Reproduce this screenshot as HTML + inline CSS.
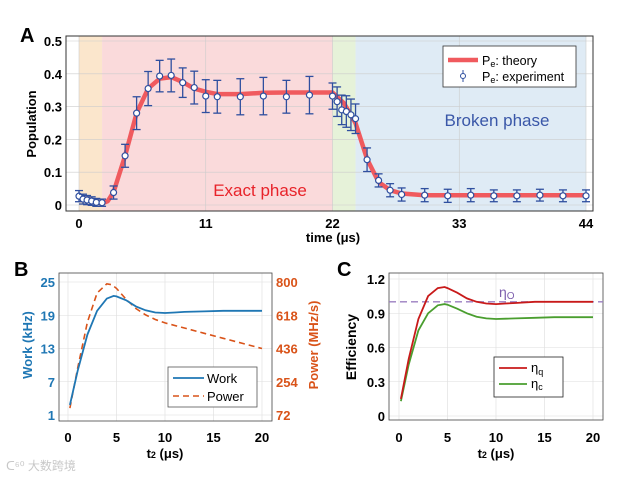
<!DOCTYPE html>
<html><head><meta charset="utf-8"><style>
html,body{margin:0;padding:0;background:#fff}
svg{display:block;font-family:"Liberation Sans","Noto Sans CJK SC",sans-serif}
</style></head><body>
<svg id="fig" width="631" height="479" viewBox="0 0 631 479" xmlns="http://www.w3.org/2000/svg"></svg>
<script>
// ---- Panel A data ----
const aExpT=[0,0.35,0.7,1.1,1.5,2.0,3,4,5,6,7,8,9,10,11,12,14,16,18,20,22,22.4,22.8,23.2,23.6,24,25,26,27,28,30,32,34,36,38,40,42,44];
const aExpV=[0.027,0.018,0.015,0.012,0.008,0.007,0.038,0.15,0.28,0.355,0.393,0.395,0.373,0.358,0.332,0.33,0.33,0.332,0.33,0.335,0.332,0.315,0.29,0.285,0.275,0.263,0.138,0.075,0.045,0.032,0.03,0.028,0.03,0.028,0.028,0.03,0.028,0.028];
const aExpE=[0.017,0.015,0.014,0.013,0.012,0.011,0.02,0.035,0.05,0.052,0.048,0.05,0.045,0.05,0.05,0.05,0.055,0.057,0.05,0.057,0.04,0.045,0.045,0.048,0.048,0.045,0.036,0.02,0.02,0.02,0.02,0.02,0.02,0.018,0.018,0.018,0.018,0.018];
const aThT=[0,1,2,2.5,3,4,5,6,7,8,9,10,11,12,14,16,18,20,22,23,24,25,26,27,28,30,44];
const aThV=[0.025,0.015,0.005,0.012,0.04,0.15,0.28,0.355,0.385,0.39,0.375,0.355,0.345,0.338,0.338,0.342,0.343,0.343,0.343,0.31,0.25,0.14,0.07,0.045,0.035,0.03,0.03];
const aXTicks=[0,11,22,33,44];
const aYTicks=[0,0.1,0.2,0.3,0.4,0.5];
// ---- Panel B data ----
const bT=[0.2,1,2,3,4,4.7,5,6,7,8,9,10,11,12,14,16,18,20];
const bWork=[2.8,9,15.5,19.8,22,22.5,22.4,21.7,20.6,19.9,19.5,19.4,19.5,19.6,19.7,19.8,19.8,19.8];
const bPowT=[0.2,1,2,3,4,4.5,5,6,7,8,9,10,12,14,16,18,20];
const bPow=[110,330,580,740,790,785,765,705,655,620,595,576,548,520,492,464,436];
const bXTicks=[0,5,10,15,20];
const bWorkTicks=[1,7,13,19,25];
const bPowTicks=[72,254,436,618,800];
// ---- Panel C data ----
const cT=[0.2,1,2,3,4,4.7,5,6,7,8,9,10,11,12,14,16,18,20];
const cEtaQ=[0.15,0.5,0.85,1.05,1.12,1.13,1.12,1.08,1.03,1.0,0.985,0.98,0.985,0.99,1.0,1.0,1.0,1.0];
const cEtaC=[0.13,0.45,0.75,0.9,0.97,0.98,0.975,0.94,0.9,0.87,0.855,0.85,0.852,0.855,0.86,0.865,0.865,0.865];
const cEtaO=1.0;
const cXTicks=[0,5,10,15,20];
const cYTicks=[0,0.3,0.6,0.9,1.2];

const S=document.getElementById('fig');
const NS='http://www.w3.org/2000/svg';
function el(tag,attrs,parent,text){const e=document.createElementNS(NS,tag);for(const k in attrs)e.setAttribute(k,attrs[k]);if(text!==undefined)e.textContent=text;(parent||S).appendChild(e);return e;}
function pts(xs,ys,fx,fy){return xs.map((x,i)=>fx(x).toFixed(1)+','+fy(ys[i]).toFixed(1)).join(' ');}

// ================= Panel A =================
const ax=v=>79+v*(507/44), ay=v=>205-v*328;
let g=el('g',{},S);

let t=el('text',{x:20,y:42,'font-size':20,'font-weight':'bold'},S,'A');

el('rect',{x:66,y:36,width:527,height:175,fill:'#fff'},g);
let r;
r=el('rect',{x:ax(0),y:36,width:ax(2)-ax(0),height:175,fill:'#fbe6cc'},g);
r=el('rect',{x:ax(2),y:36,width:ax(22)-ax(2),height:175,fill:'#fadadb'},g);
r=el('rect',{x:ax(22),y:36,width:ax(24)-ax(22),height:175,fill:'#e6f2d9'},g);
r=el('rect',{x:ax(24),y:36,width:ax(44)-ax(24),height:175,fill:'#dfebf5'},g);
aXTicks.forEach(v=>{el('line',{x1:ax(v),x2:ax(v),y1:36,y2:211,stroke:'#ccc','stroke-width':0.6},g);
 let tx=el('text',{x:ax(v),y:228,'font-size':13,'font-weight':'bold','text-anchor':'middle'},g,String(v));});
aYTicks.forEach(v=>{el('line',{x1:66,x2:593,y1:ay(v),y2:ay(v),stroke:'#ccc','stroke-width':0.6},g);
 let tx=el('text',{x:62,y:ay(v)+5,'font-size':13,'font-weight':'bold','text-anchor':'end'},g,v===0?'0':String(v));});
el('rect',{x:66,y:36,width:527,height:175,fill:'none',stroke:'#333','stroke-width':1},g);
t=el('text',{x:260,y:196,'font-size':17,fill:'#e8232a','text-anchor':'middle'},g,'Exact phase');
t=el('text',{x:497,y:126,'font-size':17,fill:'#3a57a8','text-anchor':'middle'},g,'Broken phase');
let p=el('polyline',{points:pts(aThT,aThV,ax,ay),fill:'none',stroke:'#f05a5e','stroke-width':4.5,'stroke-linejoin':'round'},g);

aExpT.forEach((tt,i)=>{const x=ax(tt),y1=ay(aExpV[i]-aExpE[i]),y2=ay(aExpV[i]+aExpE[i]);
 const eg=el('g',{},g);
 el('line',{x1:x,x2:x,y1:y1,y2:y2,stroke:'#2f4f9f','stroke-width':1.3},eg);
 el('line',{x1:x-4,x2:x+4,y1:y1,y2:y1,stroke:'#2f4f9f','stroke-width':1.3},eg);
 el('line',{x1:x-4,x2:x+4,y1:y2,y2:y2,stroke:'#2f4f9f','stroke-width':1.3},eg);
 el('circle',{cx:x,cy:ay(aExpV[i]),r:3,fill:'#fff',stroke:'#2f4f9f','stroke-width':1.2},eg);});
let lg=el('g',{},g);
el('rect',{x:443,y:46,width:133,height:41,fill:'#fff',stroke:'#333','stroke-width':0.8},lg);
el('line',{x1:448,x2:478,y1:60,y2:60,stroke:'#f05a5e','stroke-width':4.5},lg);
t=el('text',{x:482,y:65,'font-size':12.5},lg);t.innerHTML='P<tspan font-size="9" dy="2">e</tspan><tspan dy="-2">: theory</tspan>';
el('line',{x1:463,x2:463,y1:70,y2:82,stroke:'#2f4f9f','stroke-width':1},lg);
el('circle',{cx:463,cy:76,r:2.5,fill:'#fff',stroke:'#2f4f9f'},lg);
t=el('text',{x:482,y:81,'font-size':12.5},lg);t.innerHTML='P<tspan font-size="9" dy="2">e</tspan><tspan dy="-2">: experiment</tspan>';
t=el('text',{x:333,y:242,'font-size':13,'font-weight':'bold','text-anchor':'middle'},g,'time (μs)');
t=el('text',{x:0,y:0,'font-size':13,'font-weight':'bold','text-anchor':'middle',transform:'translate(36,124) rotate(-90)'},g,'Population');

// ================= Panel B =================
const bx=v=>68+v*9.7, byW=v=>415-(v-1)*(133/24), byP=v=>415-(v-72)*(133/728);
g=el('g',{},S);
t=el('text',{x:14,y:276,'font-size':20,'font-weight':'bold'},S,'B');
bXTicks.forEach(v=>{el('line',{x1:bx(v),x2:bx(v),y1:273,y2:421,stroke:'#ddd','stroke-width':0.6},g);
 let tx=el('text',{x:bx(v),y:442,'font-size':13,'font-weight':'bold','text-anchor':'middle'},g,String(v));});
bWorkTicks.forEach(v=>{el('line',{x1:59,x2:272,y1:byW(v),y2:byW(v),stroke:'#ddd','stroke-width':0.6},g);
 let tx=el('text',{x:55,y:byW(v)+5,'font-size':13,'font-weight':'bold',fill:'#1f77b4','text-anchor':'end'},g,String(v));});
bPowTicks.forEach(v=>{let tx=el('text',{x:276,y:byP(v)+5,'font-size':13,'font-weight':'bold',fill:'#d95319'},g,String(v));});
el('rect',{x:59,y:273,width:213,height:148,fill:'none',stroke:'#444','stroke-width':0.8},g);
p=el('polyline',{points:pts(bPowT,bPow,bx,byP),fill:'none',stroke:'#d95319','stroke-width':1.6,'stroke-dasharray':'6,4'},g);
p=el('polyline',{points:pts(bT,bWork,bx,byW),fill:'none',stroke:'#1f77b4','stroke-width':1.8},g);
lg=el('g',{},g);
el('rect',{x:168,y:367,width:89,height:40,fill:'#fff',stroke:'#555','stroke-width':0.8},lg);
el('line',{x1:173,x2:204,y1:378,y2:378,stroke:'#1f77b4','stroke-width':1.8},lg);
t=el('text',{x:207,y:383,'font-size':13},lg,'Work');
el('line',{x1:173,x2:204,y1:396,y2:396,stroke:'#d95319','stroke-width':1.6,'stroke-dasharray':'6,4'},lg);
t=el('text',{x:207,y:401,'font-size':13},lg,'Power');
t=el('text',{x:165,y:458,'font-size':13,'font-weight':'bold','text-anchor':'middle'},g);t.innerHTML='t<tspan font-size="9">2</tspan> (μs)';
t=el('text',{x:0,y:0,'font-size':13,'font-weight':'bold',fill:'#1f77b4','text-anchor':'middle',transform:'translate(32,345) rotate(-90)'},g,'Work (kHz)');
t=el('text',{x:0,y:0,'font-size':13,'font-weight':'bold',fill:'#d95319','text-anchor':'middle',transform:'translate(318,345) rotate(-90)'},g,'Power (MHz/s)');

// ================= Panel C =================
const cx=v=>399+v*9.7, cy=v=>416-v*(137/1.2);
g=el('g',{},S);
t=el('text',{x:337,y:276,'font-size':20,'font-weight':'bold'},S,'C');
cXTicks.forEach(v=>{el('line',{x1:cx(v),x2:cx(v),y1:273,y2:420,stroke:'#ddd','stroke-width':0.6},g);
 let tx=el('text',{x:cx(v),y:442,'font-size':13,'font-weight':'bold','text-anchor':'middle'},g,String(v));});
cYTicks.forEach(v=>{el('line',{x1:389,x2:603,y1:cy(v),y2:cy(v),stroke:'#ddd','stroke-width':0.6},g);
 let tx=el('text',{x:385,y:cy(v)+5,'font-size':13,'font-weight':'bold','text-anchor':'end'},g,v===0?'0':v.toFixed(1));});
el('rect',{x:389,y:273,width:214,height:147,fill:'none',stroke:'#444','stroke-width':0.8},g);
let d=el('line',{x1:389,x2:603,y1:cy(cEtaO),y2:cy(cEtaO),stroke:'#9b7fc0','stroke-width':1.3,'stroke-dasharray':'7,4'},g);
t=el('text',{x:499,y:297,'font-size':14,fill:'#7e5fae'},g);t.innerHTML='η<tspan font-size="10" dy="2">O</tspan>';
p=el('polyline',{points:pts(cT,cEtaC,cx,cy),fill:'none',stroke:'#4a9e2f','stroke-width':1.8},g);
p=el('polyline',{points:pts(cT,cEtaQ,cx,cy),fill:'none',stroke:'#c81a1a','stroke-width':1.8},g);
lg=el('g',{},g);
el('rect',{x:494,y:357,width:69,height:40,fill:'#fff',stroke:'#222','stroke-width':0.8},lg);
el('line',{x1:499,x2:527,y1:368,y2:368,stroke:'#c81a1a','stroke-width':1.8},lg);
t=el('text',{x:531,y:372,'font-size':13},lg);t.innerHTML='η<tspan font-size="9" dy="3">q</tspan>';
el('line',{x1:499,x2:527,y1:384,y2:384,stroke:'#4a9e2f','stroke-width':1.8},lg);
t=el('text',{x:531,y:388,'font-size':13},lg);t.innerHTML='η<tspan font-size="9" dy="2">c</tspan>';
t=el('text',{x:496,y:458,'font-size':13,'font-weight':'bold','text-anchor':'middle'},g);t.innerHTML='t<tspan font-size="9">2</tspan> (μs)';
t=el('text',{x:0,y:0,'font-size':14,'font-weight':'bold','text-anchor':'middle',transform:'translate(356,347) rotate(-90)'},g,'Efficiency');

t=el('text',{x:6,y:470,'font-size':12,fill:'#c8c8c8'},S,'ᑕ⁶⁰ 大数跨境');
</script>
</body></html>
